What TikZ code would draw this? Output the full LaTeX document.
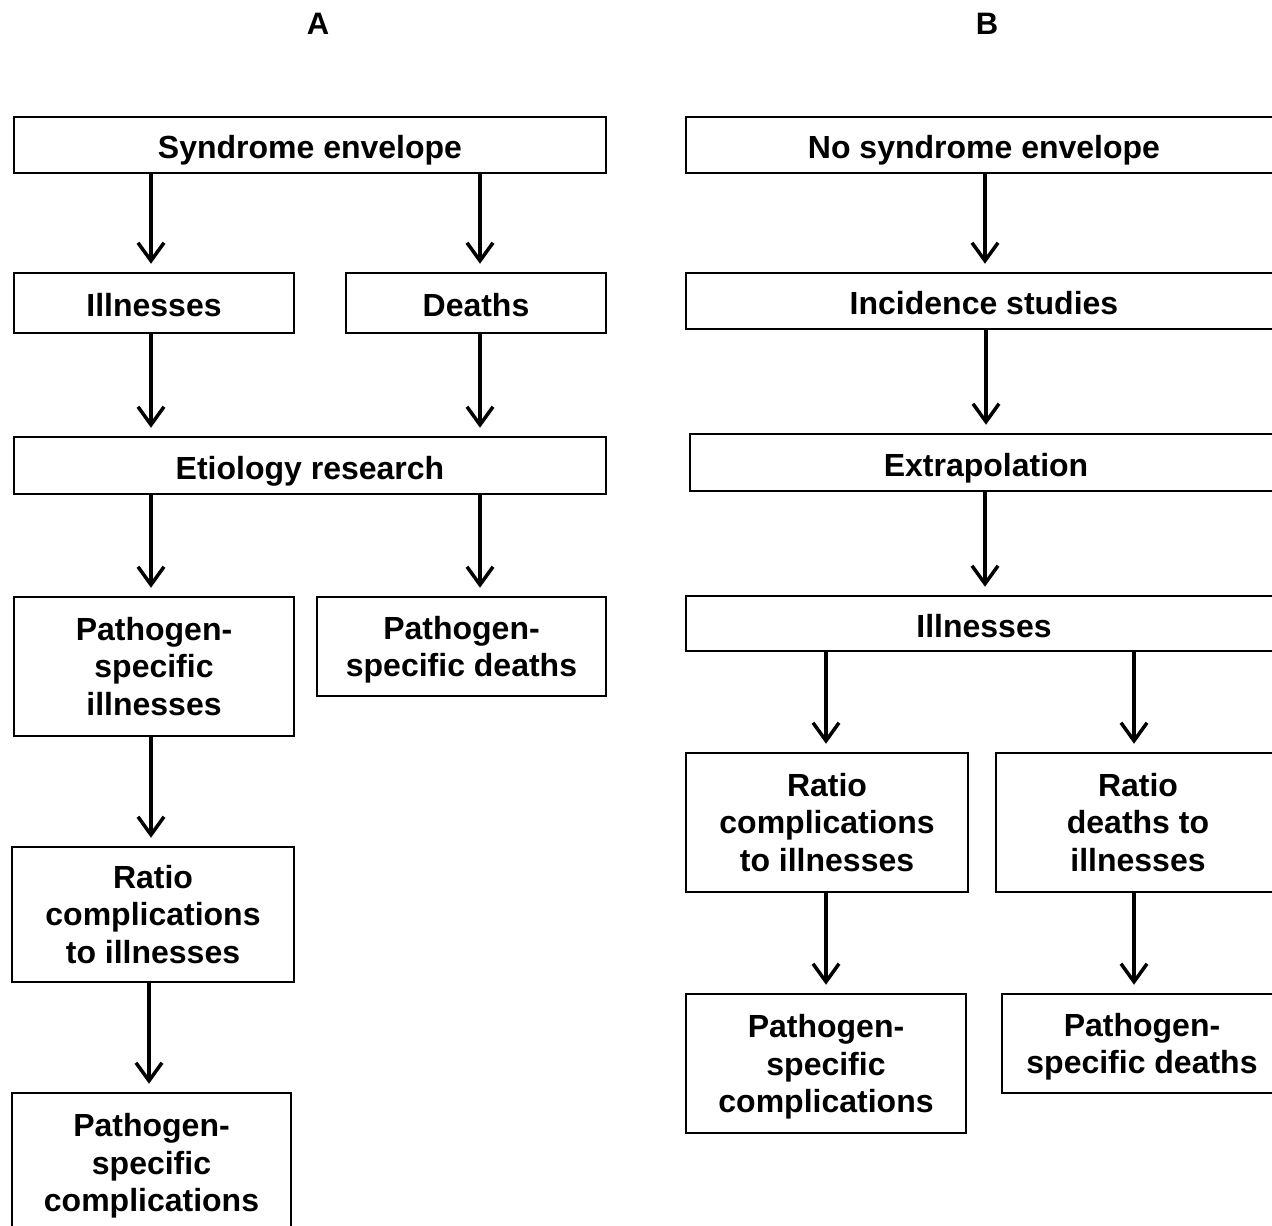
\documentclass[tikz,border=0pt]{standalone}
\usepackage{fontspec}
\setmainfont{Liberation Sans}
\usetikzlibrary{arrows.meta}
\tikzset{
  box/.style={draw, line width=2.5pt, align=center, inner sep=0pt,
    font=\bfseries\fontsize{32}{37.5}\selectfont},
  one/.style={text height=27pt, text depth=0pt},
  arr/.style={line width=3.5pt, -{Straight Barb[length=18pt,width=26pt,line width=3.5pt]}, shorten >=8pt},
  ttl/.style={font=\bfseries\fontsize{31}{36}\selectfont}
}
\begin{document}
\begin{tikzpicture}[x=1pt,y=-1pt]
\useasboundingbox (0,0) rectangle (1272,1226);
\clip (0,0) rectangle (1272,1226);
\fill[white] (0,0) rectangle (1272,1226);
% titles
\node[ttl] (tA) at (318,24) {A};
\node[ttl] (tB) at (987,24) {B};
% panel A
\node[box, one, minimum width=592pt, minimum height=56pt] (synA) at (310,145) {Syndrome envelope};
\node[box, one, minimum width=280pt, minimum height=60pt] (illA) at (154,303) {Illnesses};
\node[box, one, minimum width=260pt, minimum height=60pt] (deaA) at (476,303) {Deaths};
\node[box, one, minimum width=592pt, minimum height=57pt] (etiA) at (310,465.5) {Etiology research};
\node[box, minimum width=280pt, minimum height=139pt] (psiA) at (154,666.5) {Pathogen-\\specific\\illnesses};
\node[box, minimum width=289pt, minimum height=99pt] (psdA) at (461.5,646.5) {Pathogen-\\\smash{specific deaths}};
\node[box, minimum width=282pt, minimum height=135pt] (ratA) at (153,914.5) {Ratio\\complications\\to illnesses};
\node[box, minimum width=279pt, minimum height=139pt] (pscA) at (151.5,1162.5) {Pathogen-\\specific\\\smash{complications}};
% panel B
\node[box, one, minimum width=596pt, minimum height=56pt] (nseB) at (984,145) {No syndrome envelope};
\node[box, one, minimum width=596pt, minimum height=56pt] (incB) at (984,301) {Incidence studies};
\node[box, one, minimum width=592pt, minimum height=57pt] (extB) at (986,462.5) {Extrapolation};
\node[box, one, minimum width=596pt, minimum height=55pt] (illB) at (984,623.5) {Illnesses};
\node[box, minimum width=282pt, minimum height=139pt] (rcB) at (827,822.5) {Ratio\\complications\\to illnesses};
\node[box, minimum width=284pt, minimum height=139pt] (rdB) at (1138,822.5) {Ratio\\deaths to\\illnesses};
\node[box, minimum width=280pt, minimum height=139pt] (pscB) at (826,1063.5) {Pathogen-\\specific\\\smash{complications}};
\node[box, minimum width=280pt, minimum height=99pt] (psdB) at (1142,1043.5) {Pathogen-\\\smash{specific deaths}};
% x positions
\coordinate (xa1) at (151,0);
\coordinate (xa2) at (480,0);
\coordinate (xa3) at (149,0);
\coordinate (xb1) at (985,0);
\coordinate (xb2) at (986,0);
\coordinate (xb3) at (826,0);
\coordinate (xb4) at (1134,0);
% arrows A
\draw[arr] (xa1 |- synA.south) -- (xa1 |- illA.north);
\draw[arr] (xa2 |- synA.south) -- (xa2 |- deaA.north);
\draw[arr] (xa1 |- illA.south) -- (xa1 |- etiA.north);
\draw[arr] (xa2 |- deaA.south) -- (xa2 |- etiA.north);
\draw[arr] (xa1 |- etiA.south) -- (xa1 |- psiA.north);
\draw[arr] (xa2 |- etiA.south) -- (xa2 |- psdA.north);
\draw[arr] (xa1 |- psiA.south) -- (xa1 |- ratA.north);
\draw[arr] (xa3 |- ratA.south) -- (xa3 |- pscA.north);
% arrows B
\draw[arr] (xb1 |- nseB.south) -- (xb1 |- incB.north);
\draw[arr] (xb2 |- incB.south) -- (xb2 |- extB.north);
\draw[arr] (xb1 |- extB.south) -- (xb1 |- illB.north);
\draw[arr] (xb3 |- illB.south) -- (xb3 |- rcB.north);
\draw[arr] (xb4 |- illB.south) -- (xb4 |- rdB.north);
\draw[arr] (xb3 |- rcB.south) -- (xb3 |- pscB.north);
\draw[arr] (xb4 |- rdB.south) -- (xb4 |- psdB.north);
\end{tikzpicture}
\end{document}
